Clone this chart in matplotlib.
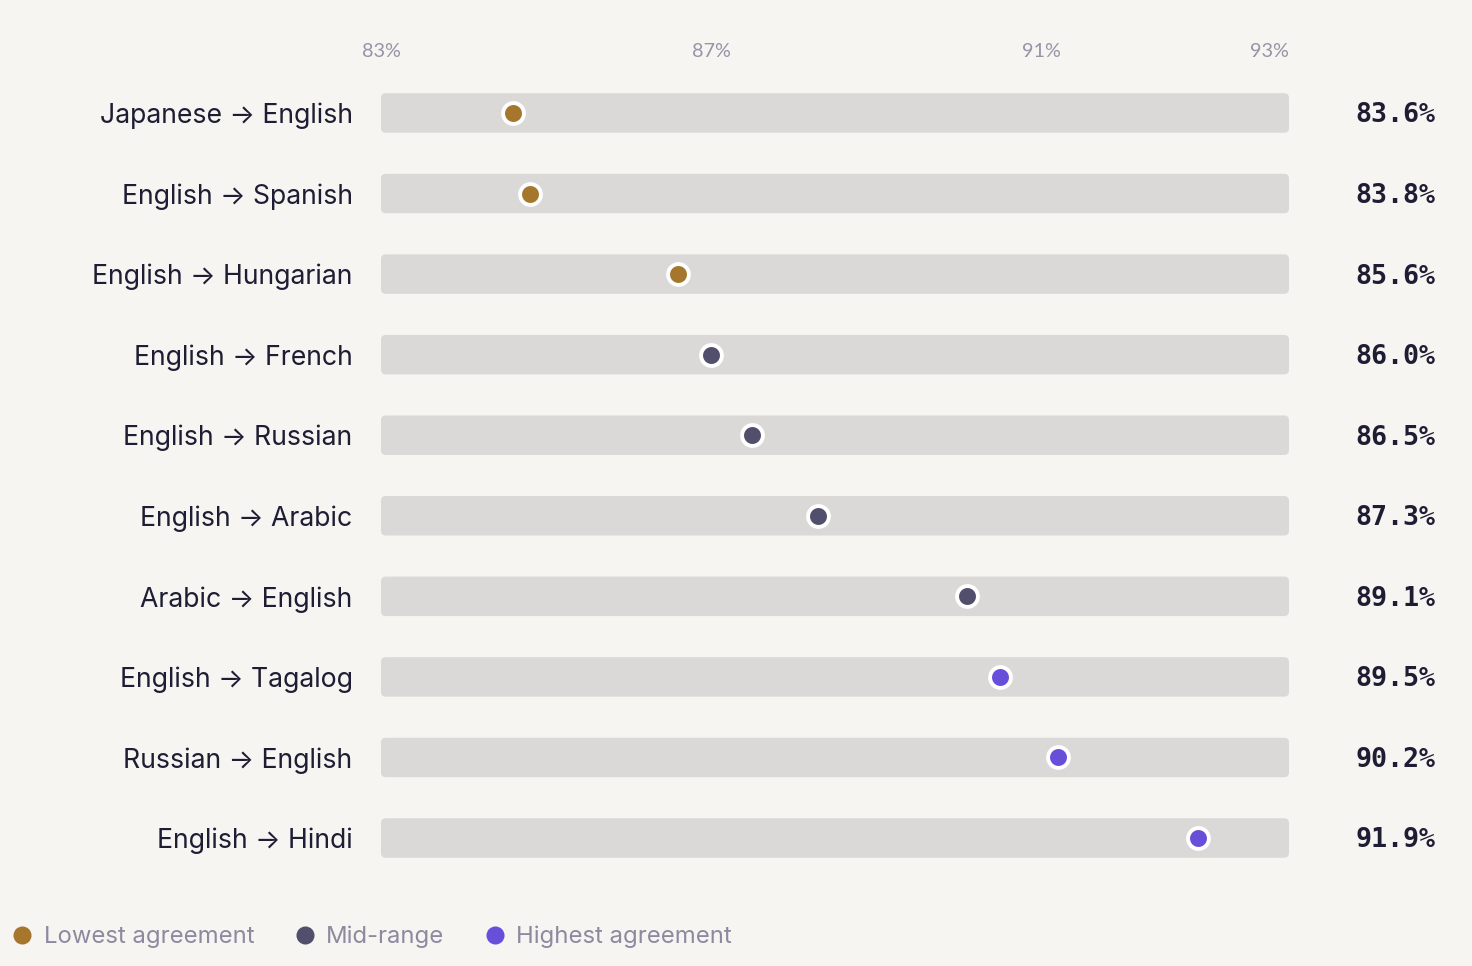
import matplotlib.pyplot as plt
import matplotlib.transforms as mtransforms
from matplotlib.patches import FancyBboxPatch
from matplotlib.lines import Line2D

pares = ["Japanese → English", "English → Spanish", "English → Hungarian",
         "English → French", "English → Russian", "English → Arabic",
         "Arabic → English", "English → Tagalog", "Russian → English",
         "English → Hindi"]
concordancia = [83.6, 83.8, 85.6, 86.0, 86.5, 87.3, 89.1, 89.5, 90.2, 91.9]
grupos = ["low", "low", "low", "mid", "mid", "mid", "mid", "high", "high", "high"]

posicoes_ticks = [82, 86, 90, 93]
rotulos_ticks = ["83%", "87%", "91%", "93%"]
x_min, x_max = 82, 93

cores = {"low": "#A5762B", "mid": "#524F6C", "high": "#674FD9"}
nomes_legenda = {"low": "Lowest agreement", "mid": "Mid-range", "high": "Highest agreement"}

FUNDO = "#F6F5F1"
BARRA = "#DAD9D7"
TEXTO = "#1E1D33"
CINZA = "#9894A8"

fig = plt.figure(figsize=(14.72, 9.66), dpi=100, facecolor=FUNDO)
ax = fig.add_axes([381 / 1472, 1 - 878.3 / 966, 908 / 1472, 805.6 / 966])
ax.set_facecolor(FUNDO)

trans_valor = mtransforms.blended_transform_factory(ax.transAxes, ax.transData)
for i, (v, g) in enumerate(zip(concordancia, grupos)):
    barra = FancyBboxPatch((x_min, i - 0.245), x_max - x_min, 0.49,
                           boxstyle="round,pad=0,rounding_size=0.06",
                           mutation_aspect=0.98, facecolor=BARRA,
                           edgecolor="none", zorder=1)
    ax.add_patch(barra)
    ax.plot(v, i, "o", ms=15, mfc=cores[g], mec="white", mew=2.8, zorder=3)
    ax.text(1.0727, i + 0.03, f"{v:.1f}%", transform=trans_valor,
            ha="left", va="center", fontsize=19.2, fontweight="bold",
            family="DejaVu Sans Mono", color=TEXTO)

ax.set_xlim(x_min, x_max)
ax.set_ylim(len(pares) - 0.5, -0.5)

ax.set_yticks(range(len(pares)))
ax.set_yticklabels(pares, family="Inter", fontsize=19.2, color=TEXTO)
ax.tick_params(axis="y", length=0, pad=20.5)

ax.xaxis.tick_top()
ax.set_xticks(posicoes_ticks)
ax.set_xticklabels(rotulos_ticks, family="Lato", fontsize=14.3, color=CINZA)
ax.tick_params(axis="x", length=0, pad=9)
ax.get_xticklabels()[-1].set_ha("right")

for lado in ax.spines.values():
    lado.set_visible(False)

alcas = [Line2D([], [], marker="o", ls="none", ms=13, mfc=cores[k], mec="none",
                label=nomes_legenda[k]) for k in ["low", "mid", "high"]]
leg = fig.legend(handles=alcas, loc="center left",
                 bbox_to_anchor=(8 / 1472, 1 - 937 / 966),
                 ncol=3, frameon=False, handletextpad=0.3, columnspacing=1.5,
                 handlelength=1.2, prop={"family": "Inter", "size": 17.2},
                 borderaxespad=0, borderpad=0)
for t in leg.get_texts():
    t.set_color("#8D899F")

fig.savefig("out.png", dpi=100, facecolor=FUNDO)
